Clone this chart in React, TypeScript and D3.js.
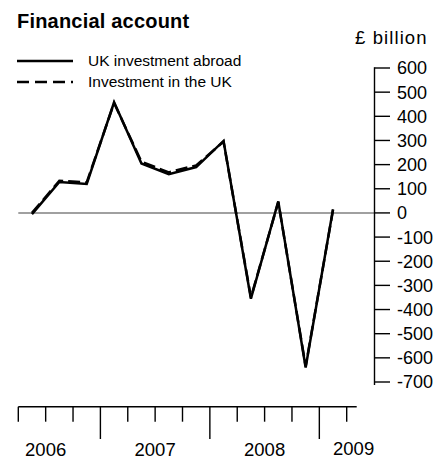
import React from "react";
import * as d3 from "d3";

const quarters = [
  "2006 Q2", "2006 Q3", "2006 Q4",
  "2007 Q1", "2007 Q2", "2007 Q3", "2007 Q4",
  "2008 Q1", "2008 Q2", "2008 Q3", "2008 Q4",
  "2009 Q1",
];
const ukInvestmentAbroad = [-5, 128, 120, 458, 205, 160, 190, 298, -355, 48, -640, 15];
const investmentInUK = [0, 133, 126, 455, 212, 168, 197, 295, -350, 45, -635, 12];
const yTicks = [600, 500, 400, 300, 200, 100, 0, -100, -200, -300, -400, -500, -600, -700];
const years = ["2006", "2007", "2008", "2009"];
const seriesNames = ["UK investment abroad", "Investment in the UK"];

const W = 437;
const H = 460;
const FONT = "'Liberation Sans', Arial, Helvetica, sans-serif";

export default function App() {
  const x = d3.scaleBand<string>().domain(quarters).range([18.3, 346.7]).padding(0);
  const bw = x.bandwidth();
  const y = d3.scaleLinear().domain([-700, 600]).range([382, 68]);
  const cx = (q: string) => (x(q) as number) + bw / 2;

  const line = d3
    .line<number>()
    .x((_, i) => cx(quarters[i]))
    .y((d) => y(d));

  const axisX = 374.5;
  const baseY = 406.7;
  const tickPositions = [...quarters.map((q) => x(q) as number), (x(quarters[quarters.length - 1]) as number) + bw];
  const isMajor = (i: number) => i < quarters.length && quarters[i].endsWith("Q1");

  const yearLabelX = (yr: string) => {
    const q1 = `${yr} Q1`;
    if (yr === "2006") return (x("2007 Q1") as number) - 2 * bw;
    if (yr === "2009") return cx(q1);
    return (x(q1) as number) + 2 * bw;
  };

  return (
    <svg
      width={W}
      height={H}
      style={{ position: "absolute", left: 0, top: 0, background: "#fff" }}
      fontFamily={FONT}
    >
      <rect x={0} y={0} width={W} height={H} fill="#fff" />
      <text x={17} y={28} fontSize={20} fontWeight="bold" fill="#000" letterSpacing={0.2}>
        Financial account
      </text>
      <text x={355} y={44} fontSize={18.5} fill="#000" letterSpacing={1.1}>
        £ billion
      </text>

      {/* legend */}
      <line x1={17} x2={73} y1={61} y2={61} stroke="#000" strokeWidth={2.7} />
      <text x={88} y={66} fontSize={15.5} fill="#000">
        {seriesNames[0]}
      </text>
      <line x1={17} x2={73} y1={82} y2={82} stroke="#000" strokeWidth={2.7} strokeDasharray="12,6" />
      <text x={88} y={87} fontSize={15.5} fill="#000">
        {seriesNames[1]}
      </text>

      {/* zero line */}
      <line x1={18.3} x2={axisX} y1={y(0)} y2={y(0)} stroke="#808080" strokeWidth={1.5} />

      {/* y axis */}
      <line x1={axisX} x2={axisX} y1={y(600) - 0.7} y2={y(-700) + 3} stroke="#000" strokeWidth={1.4} />
      {yTicks.map((t) => (
        <g key={t}>
          <line x1={axisX} x2={390} y1={y(t)} y2={y(t)} stroke="#000" strokeWidth={1.4} />
          <text x={397} y={y(t)} dy="0.36em" fontSize={18} fill="#000">
            {t}
          </text>
        </g>
      ))}

      {/* series */}
      <path d={line(ukInvestmentAbroad) || ""} fill="none" stroke="#000" strokeWidth={2.5} strokeLinejoin="miter" />
      <path
        d={line(investmentInUK) || ""}
        fill="none"
        stroke="#000"
        strokeWidth={2.5}
        strokeDasharray="12,5"
        strokeLinejoin="miter"
      />

      {/* x axis */}
      <line x1={18.3} x2={356.7} y1={baseY} y2={baseY} stroke="#000" strokeWidth={1.4} />
      {tickPositions.map((tx, i) => (
        <line
          key={i}
          x1={tx}
          x2={tx}
          y1={baseY}
          y2={isMajor(i) ? 439 : 421.7}
          stroke="#000"
          strokeWidth={1.4}
        />
      ))}
      {years.map((yr) => (
        <text
          key={yr}
          x={yearLabelX(yr)}
          y={yr === "2009" ? 454.5 : 455.5}
          textAnchor={yr === "2009" ? "start" : "middle"}
          fontSize={18.5}
          fill="#000"
        >
          {yr}
        </text>
      ))}
    </svg>
  );
}
